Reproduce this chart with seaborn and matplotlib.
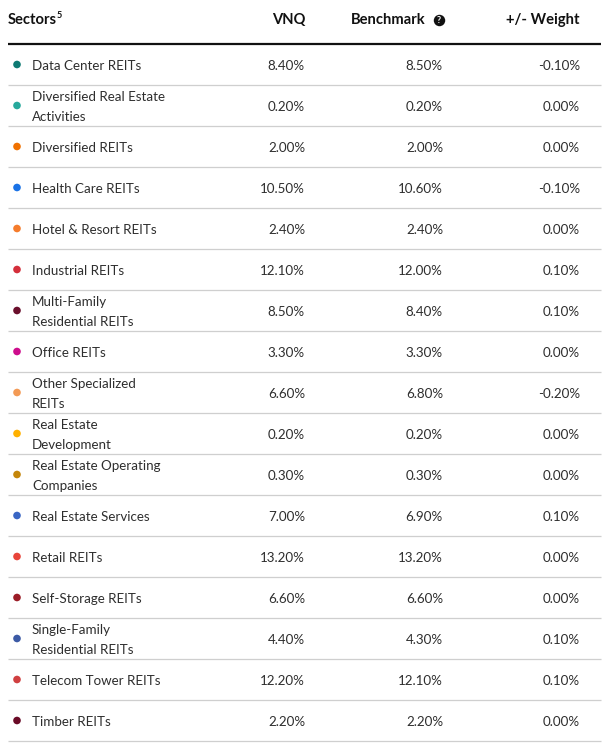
import matplotlib
matplotlib.use("Agg")
import matplotlib.pyplot as plt
import seaborn as sns
import pandas as pd

# ---- data ----
sectors = [
    "Data Center REITs",
    "Diversified Real Estate\nActivities",
    "Diversified REITs",
    "Health Care REITs",
    "Hotel & Resort REITs",
    "Industrial REITs",
    "Multi-Family\nResidential REITs",
    "Office REITs",
    "Other Specialized\nREITs",
    "Real Estate\nDevelopment",
    "Real Estate Operating\nCompanies",
    "Real Estate Services",
    "Retail REITs",
    "Self-Storage REITs",
    "Single-Family\nResidential REITs",
    "Telecom Tower REITs",
    "Timber REITs",
]
vnq = [8.40, 0.20, 2.00, 10.50, 2.40, 12.10, 8.50, 3.30, 6.60, 0.20, 0.30, 7.00, 13.20, 6.60, 4.40, 12.20, 2.20]
benchmark = [8.50, 0.20, 2.00, 10.60, 2.40, 12.00, 8.40, 3.30, 6.80, 0.20, 0.30, 6.90, 13.20, 6.60, 4.30, 12.10, 2.20]
weight = [-0.10, 0.00, 0.00, -0.10, 0.00, 0.10, 0.10, 0.00, -0.20, 0.00, 0.00, 0.10, 0.00, 0.00, 0.10, 0.10, 0.00]
dot_colors = ["#0e7a73", "#27a99c", "#f07100", "#1a72e6", "#f57c2c", "#d42f3b",
              "#6a0f2c", "#cd0d8c", "#f39a55", "#ffb100", "#c4860b", "#3a66c4",
              "#e8443a", "#9b1d27", "#3c5aa5", "#d04041", "#6a0b27"]
headers = ["Sectors", "VNQ", "Benchmark", "+/- Weight"]

# ---- layout (pixels) ----
W, H = 616, 752
top_rule = 44
row_h = 41
x_dot, x_text = 17, 32
x_vnq, x_bm, x_wt = 305, 443, 580
txt_col = "#2e2e2e"
font = "Lato"
fs = 9.6
hfs = 10.6
dy = 1.8  # baseline nudge

sns.set_theme(style="white")
plt.rcParams["font.family"] = [font, "DejaVu Sans"]

fig = plt.figure(figsize=(W / 100, H / 100), dpi=100)
ax = fig.add_axes([0, 0, 1, 1])
ax.set_xlim(0, W)
ax.set_ylim(H, 0)
ax.axis("off")

n = len(sectors)
df = pd.DataFrame({
    "sector": sectors,
    "row": range(n),
})
df["y"] = top_rule + row_h * (df["row"] + 0.5)
df["x"] = x_dot

# dots
sns.scatterplot(data=df, x="x", y="y", hue="sector", palette=dict(zip(sectors, dot_colors)),
                s=30, linewidth=0, legend=False, ax=ax)

# header
hy = 20
ax.text(8, hy, headers[0], fontsize=hfs, fontweight="bold", color="#111111", va="center", ha="left")
ax.text(57, hy - 5, "5", fontsize=6.5, fontweight="bold", color="#111111", va="center", ha="left")
ax.text(x_vnq, hy, headers[1], fontsize=hfs, fontweight="bold", color="#111111", va="center", ha="right")
ax.text(x_bm - 17, hy, headers[2], fontsize=hfs, fontweight="bold", color="#111111", va="center", ha="right")
ax.scatter([x_bm - 4], [hy], s=68, color="#111111", linewidths=0, zorder=3)
ax.text(x_bm - 4, hy + 0.5, "?", fontsize=6.5, fontweight="bold", color="white", va="center", ha="center", zorder=4)
ax.text(x_wt, hy, headers[3], fontsize=hfs, fontweight="bold", color="#111111", va="center", ha="right")

# rules
ax.plot([8, 601], [top_rule, top_rule], color="#111111", lw=1.6, solid_capstyle="butt")
for i in range(n):
    yb = top_rule + row_h * (i + 1)
    ax.plot([8, 601], [yb, yb], color="#cfcfcf", lw=0.9, solid_capstyle="butt")

# rows
for i, (s, v, b, w) in enumerate(zip(sectors, vnq, benchmark, weight)):
    yc = top_rule + row_h * (i + 0.5)
    yt = yc + dy
    lines = s.split("\n")
    if len(lines) == 1:
        ax.text(x_text, yt, lines[0], fontsize=fs, color=txt_col, va="center", ha="left")
    else:
        ax.text(x_text, yt - 10, lines[0], fontsize=fs, color=txt_col, va="center", ha="left")
        ax.text(x_text, yt + 10, lines[1], fontsize=fs, color=txt_col, va="center", ha="left")
    ax.text(x_vnq, yt, f"{v:.2f}%", fontsize=fs, color=txt_col, va="center", ha="right")
    ax.text(x_bm, yt, f"{b:.2f}%", fontsize=fs, color=txt_col, va="center", ha="right")
    ax.text(x_wt, yt, f"{w:.2f}%", fontsize=fs, color=txt_col, va="center", ha="right")

fig.savefig("out.png", dpi=100, facecolor="white")
